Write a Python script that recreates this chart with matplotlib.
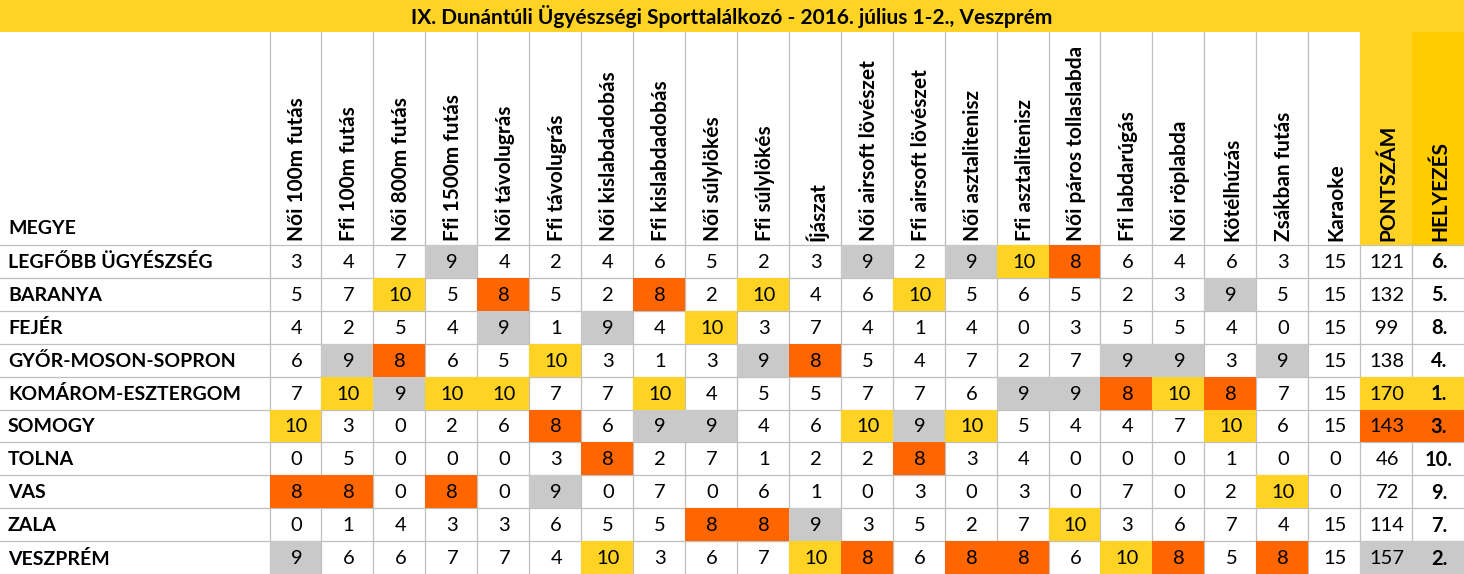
import matplotlib
matplotlib.use("Agg")
import matplotlib.pyplot as plt
from matplotlib.patches import Rectangle

plt.rcParams['font.family'] = ['Lato', 'DejaVu Sans']

title = "IX. Dunántúli Ügyészségi Sporttalálkozó - 2016. július 1-2., Veszprém"
first_header = "MEGYE"
events = ["Női 100m futás", "Ffi 100m futás", "Női 800m futás", "Ffi 1500m futás",
          "Női távolugrás", "Ffi távolugrás", "Női kislabdadobás", "Ffi kislabdadobás",
          "Női súlylökés", "Ffi súlylökés", "Íjászat", "Női airsoft lövészet",
          "Ffi airsoft lövészet", "Női asztalitenisz", "Ffi asztalitenisz",
          "Női páros tollaslabda", "Ffi labdarúgás", "Női röplabda", "Kötélhúzás",
          "Zsákban futás", "Karaoke"]
total_header = "PONTSZÁM"
rank_header = "HELYEZÉS"

counties = ["LEGFŐBB ÜGYÉSZSÉG", "BARANYA", "FEJÉR", "GYŐR-MOSON-SOPRON",
            "KOMÁROM-ESZTERGOM", "SOMOGY", "TOLNA", "VAS", "ZALA", "VESZPRÉM"]

legfobb = [3, 4, 7, 9, 4, 2, 4, 6, 5, 2, 3, 9, 2, 9, 10, 8, 6, 4, 6, 3, 15]
baranya = [5, 7, 10, 5, 8, 5, 2, 8, 2, 10, 4, 6, 10, 5, 6, 5, 2, 3, 9, 5, 15]
fejer = [4, 2, 5, 4, 9, 1, 9, 4, 10, 3, 7, 4, 1, 4, 0, 3, 5, 5, 4, 0, 15]
gyor = [6, 9, 8, 6, 5, 10, 3, 1, 3, 9, 8, 5, 4, 7, 2, 7, 9, 9, 3, 9, 15]
komarom = [7, 10, 9, 10, 10, 7, 7, 10, 4, 5, 5, 7, 7, 6, 9, 9, 8, 10, 8, 7, 15]
somogy = [10, 3, 0, 2, 6, 8, 6, 9, 9, 4, 6, 10, 9, 10, 5, 4, 4, 7, 10, 6, 15]
tolna = [0, 5, 0, 0, 0, 3, 8, 2, 7, 1, 2, 2, 8, 3, 4, 0, 0, 0, 1, 0, 0]
vas = [8, 8, 0, 8, 0, 9, 0, 7, 0, 6, 1, 0, 3, 0, 3, 0, 7, 0, 2, 10, 0]
zala = [0, 1, 4, 3, 3, 6, 5, 5, 8, 8, 9, 3, 5, 2, 7, 10, 3, 6, 7, 4, 15]
veszprem = [9, 6, 6, 7, 7, 4, 10, 3, 6, 7, 10, 8, 6, 8, 8, 6, 10, 8, 5, 8, 15]
scores = [legfobb, baranya, fejer, gyor, komarom, somogy, tolna, vas, zala, veszprem]

totals = [121, 132, 99, 138, 170, 143, 46, 72, 114, 157]
ranks = [6, 5, 8, 4, 1, 3, 10, 9, 7, 2]

# styles
YELLOW = "#FFD324"
YELLOW2 = "#FFCC00"
ORANGE = "#FF6600"
GRAY = "#C9C9C9"
GRID = "#BFBFBF"

W, H = 1464, 574
fig = plt.figure(figsize=(W / 100, H / 100), dpi=100)
ax = fig.add_axes([0, 0, 1, 1])
ax.set_xlim(0, W)
ax.set_ylim(H, 0)
ax.axis("off")

title_h = 32
header_bottom = 245
row_h = (H - header_bottom) / len(counties)
x0 = 269.5
ncols = len(events) + 2
col_w = (W - x0) / ncols
col_edges = [x0 + i * col_w for i in range(ncols + 1)]


def event_color(v):
    return {10: YELLOW, 9: GRAY, 8: ORANGE}.get(v)


def rank_color(r):
    return {1: YELLOW, 2: GRAY, 3: ORANGE}.get(r)


# title bar
ax.add_patch(Rectangle((0, 0), W, title_h, facecolor=YELLOW, edgecolor="none", zorder=1))
ax.text(W / 2, title_h / 2 + 1, title, ha="center", va="center",
        fontsize=15, fontweight="bold", zorder=5)

# grid lines
for xe in col_edges[:-1]:
    ax.plot([xe, xe], [title_h, H], color=GRID, lw=0.9, zorder=2)
for k in range(len(counties)):
    y = header_bottom + k * row_h
    ax.plot([0, W], [y, y], color=GRID, lw=0.9, zorder=2)

# header fills
ax.add_patch(Rectangle((col_edges[-3], title_h), col_w, header_bottom - title_h,
                       facecolor=YELLOW, edgecolor="none", zorder=3))
ax.add_patch(Rectangle((col_edges[-2], title_h), W - col_edges[-2], header_bottom - title_h,
                       facecolor=YELLOW2, edgecolor="none", zorder=3))

# header texts
ax.text(8, header_bottom - 17, first_header, ha="left", va="center",
        fontsize=14, fontweight="bold", zorder=5)
headers = events + [total_header, rank_header]
for i, h in enumerate(headers):
    cx = col_edges[i] + col_w / 2 + 2
    ax.text(cx, header_bottom - 4, h, rotation=90, ha="center", va="bottom",
            fontsize=15, fontweight="bold", zorder=5)

# body
for r, (name, vals) in enumerate(zip(counties, scores)):
    ytop = header_bottom + r * row_h
    yc = ytop + row_h / 2 + 1
    ax.text(8, yc, name, ha="left", va="center", fontsize=14, fontweight="bold", zorder=5)
    cells = list(vals) + [totals[r], ranks[r]]
    for c, v in enumerate(cells):
        if c < len(events):
            col = event_color(v)
        else:
            col = rank_color(ranks[r])
        xl = col_edges[c]
        if col:
            ax.add_patch(Rectangle((xl, ytop), col_w, row_h, facecolor=col,
                                   edgecolor="none", zorder=3))
        label = f"{v}." if c == ncols - 1 else f"{v}"
        ax.text(xl + col_w / 2 + 1, yc, label, ha="center", va="center",
                fontsize=14.5, fontweight="bold" if c == ncols - 1 else "normal", zorder=5)

fig.savefig("out.png", dpi=100)
